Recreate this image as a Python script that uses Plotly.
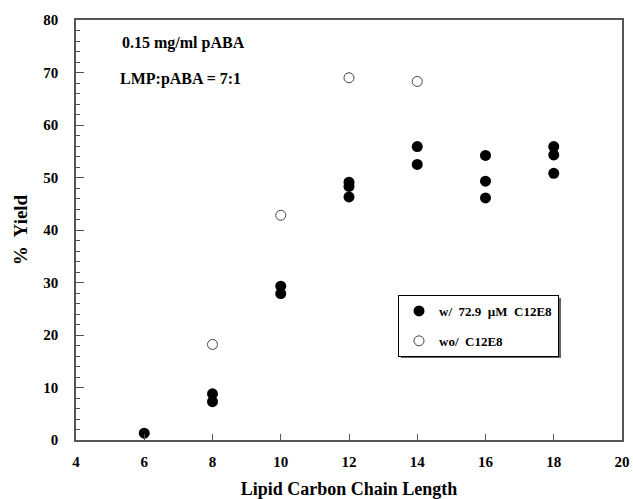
import plotly.graph_objects as go

# Data
chain_with = [6, 8, 8, 10, 10, 12, 12, 12, 14, 14, 16, 16, 16, 18, 18, 18]
yield_with = [1.3, 8.8, 7.3, 29.3, 27.9, 49.1, 48.3, 46.3, 55.9, 52.5, 54.2, 49.3, 46.1, 55.9, 54.3, 50.8]
chain_without = [8, 10, 12, 14]
yield_without = [18.2, 42.8, 69.0, 68.3]

x_ticks = [4, 6, 8, 10, 12, 14, 16, 18, 20]
y_ticks = [0, 10, 20, 30, 40, 50, 60, 70, 80]

SERIF = "Liberation Serif"
AXC = "#555555"

# plot area in page pixels (for converting layout positions to paper coords)
PL, PR, PT, PB = 76, 622, 20, 440
def px(x):
    return (x - PL) / (PR - PL)
def py(y):
    return (PB - y) / (PB - PT)

fig = go.Figure()
fig.add_trace(go.Scatter(
    x=chain_with, y=yield_with, mode="markers",
    name="w/  72.9  \u00b5M  C12E8", legendgroup="a",
    marker=dict(size=11, color="black", line=dict(width=0)),
))
fig.add_trace(go.Scatter(
    x=chain_without, y=yield_without, mode="markers",
    name="wo/  C12E8", legendgroup="b",
    marker=dict(size=10, color="white", line=dict(width=1, color="#444444")),
))

fig.update_layout(
    width=633, height=499,
    margin=dict(l=PL, r=633 - PR, t=PT, b=499 - PB, autoexpand=False),
    paper_bgcolor="white", plot_bgcolor="white",
    font=dict(family=SERIF, color="black"),
    showlegend=True,
    legend=dict(
        x=px(398), y=py(295), xanchor="left", yanchor="top",
        bgcolor="white", bordercolor="black", borderwidth=1,
        font=dict(family=SERIF, size=13, weight="bold"),
        tracegroupgap=10, itemsizing="trace",
    ),
    xaxis=dict(
        range=[4, 20], tickvals=x_ticks, ticktext=[str(v) for v in x_ticks],
        ticks="inside", ticklen=6, tickcolor=AXC,
        showline=True, linecolor=AXC, linewidth=1.5, mirror=True,
        showgrid=False, zeroline=False, automargin=False,
        tickfont=dict(family=SERIF, size=15, weight="bold"),
        ticklabelstandoff=7, ticklabeloverflow="allow",
        title=dict(text="Lipid Carbon Chain Length",
                   font=dict(family=SERIF, size=18, weight="bold"), standoff=16),
    ),
    yaxis=dict(
        range=[0, 80], tickvals=y_ticks, ticktext=[str(v) for v in y_ticks],
        ticks="inside", ticklen=8, tickcolor=AXC,
        minor=dict(ticks="inside", dtick=2, ticklen=4, tickcolor=AXC),
        showline=True, linecolor=AXC, linewidth=1.5, mirror=True,
        showgrid=False, zeroline=False, automargin=False,
        tickfont=dict(family=SERIF, size=15, weight="bold"),
        ticklabelstandoff=13, ticklabeloverflow="allow",
        title=dict(text="%  Yield",
                   font=dict(family=SERIF, size=19, weight="bold"), standoff=11),
    ),
    shapes=[
        # drop shadow of the legend box
        dict(type="rect", xref="paper", yref="paper",
             x0=px(401), x1=px(561), y0=py(298), y1=py(358),
             fillcolor="#666666", line=dict(width=0), layer="above"),
    ],
    annotations=[
        dict(text="0.15 mg/ml pABA", xref="paper", yref="paper",
             x=px(120), y=py(43), xanchor="left", yanchor="middle",
             showarrow=False, font=dict(family=SERIF, size=16, weight="bold")),
        dict(text="LMP:pABA = 7:1", xref="paper", yref="paper",
             x=px(118), y=py(79), xanchor="left", yanchor="middle",
             showarrow=False, font=dict(family=SERIF, size=16, weight="bold")),
    ],
)

fig.write_html("out.html", config={"displayModeBar": False},
               post_script="document.body.style.margin='0';document.body.style.overflow='hidden';")
